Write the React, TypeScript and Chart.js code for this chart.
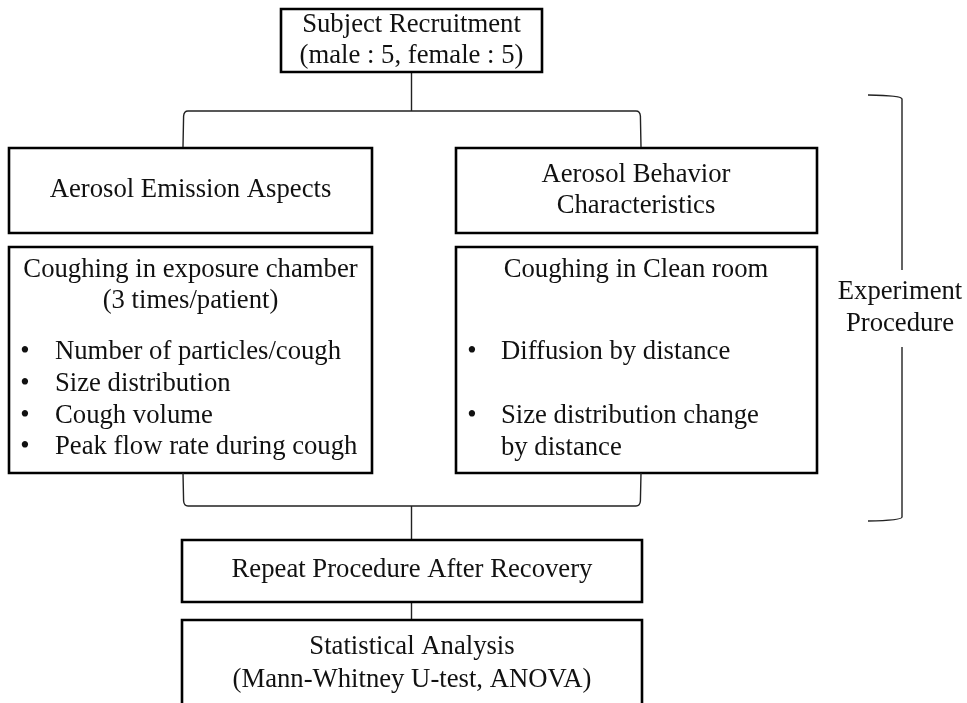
import React, { useEffect, useRef } from "react";
import { Chart, registerables } from "chart.js";

Chart.register(...registerables);

// Flowchart boxes (data units = page pixels)
const boxLeft = [281, 9, 456, 9, 456, 182, 182];
const boxRight = [542, 372, 817, 372, 817, 642, 642];
const boxTop = [9, 148, 148, 247, 247, 540, 620];
const boxBottom = [72, 233, 233, 473, 473, 602, 720];

// Straight connectors
const connX = [411.5, 411.5, 411.5];
const connTop = [72, 506, 602];
const connBottom = [111, 540, 620];

// Split / merge brackets
const bracketLeft = [183, 183];
const bracketRight = [641, 641];
const bracketBar = [111, 506];
const bracketEnd = [147, 473];

// Side bracket "Experiment Procedure"
const sideX = [902];
const sideTipX = [868];
const sideTop = [95];
const sideBottom = [521];
const sideGapTop = [270];
const sideGapBottom = [347];

// Text labels
const labels = [
  "Subject Recruitment",
  "(male : 5, female : 5)",
  "Aerosol Emission Aspects",
  "Aerosol Behavior",
  "Characteristics",
  "Coughing in exposure chamber",
  "(3 times/patient)",
  "Number of particles/cough",
  "Size distribution",
  "Cough volume",
  "Peak flow rate during cough",
  "Coughing in Clean room",
  "Diffusion by distance",
  "Size distribution change",
  "by distance",
  "Experiment",
  "Procedure",
  "Repeat Procedure After Recovery",
  "Statistical Analysis",
  "(Mann-Whitney U-test, ANOVA)",
];
const labelX = [411.5, 411.5, 190.5, 636, 636, 190.5, 190.5, 55, 55, 55, 55, 636, 501, 501, 501, 900, 900, 412, 412, 412];
const labelY = [32, 63, 197, 182, 213, 277, 308, 359, 391, 423, 454, 277, 359, 423, 455, 299, 331, 577, 654, 687];
const labelAlign = ["c", "c", "c", "c", "c", "c", "c", "l", "l", "l", "l", "c", "l", "l", "l", "c", "c", "c", "c", "c"];

// Bullets
const bulletX = [25, 25, 25, 25, 472, 472];
const bulletY = [359, 391, 423, 454, 359, 423];

const FONT = "26.7px 'Liberation Serif', 'Times New Roman', serif";

const flowPlugin = {
  id: "flow",
  afterDatasetsDraw(chart: any) {
    const { ctx } = chart;
    const xs = chart.scales.x;
    const ys = chart.scales.y;
    const px = (v: number) => xs.getPixelForValue(v);
    const py = (v: number) => ys.getPixelForValue(v);
    ctx.save();
    ctx.strokeStyle = "#222";
    ctx.lineWidth = 1.4;
    ctx.lineCap = "butt";
    // split / merge brackets
    for (let i = 0; i < bracketLeft.length; i++) {
      const x1 = px(bracketLeft[i]);
      const x2 = px(bracketRight[i]);
      const yb = py(bracketBar[i]);
      const ye = py(bracketEnd[i]);
      const s = ye > yb ? 1 : -1;
      const r = 5;
      ctx.beginPath();
      ctx.moveTo(x1, ye);
      ctx.lineTo(x1 + 0.6, yb + s * r);
      ctx.quadraticCurveTo(x1 + 1, yb, x1 + r, yb);
      ctx.lineTo(x2 - r, yb);
      ctx.quadraticCurveTo(x2 - 1, yb, x2 - 0.6, yb + s * r);
      ctx.lineTo(x2, ye);
      ctx.stroke();
    }
    // side bracket
    for (let i = 0; i < sideX.length; i++) {
      const x = px(sideX[i]);
      const xt = px(sideTipX[i]);
      ctx.beginPath();
      ctx.moveTo(xt, py(sideTop[i]));
      ctx.quadraticCurveTo(x, py(sideTop[i]) + 0.5, x, py(sideTop[i]) + 4);
      ctx.lineTo(x, py(sideGapTop[i]));
      ctx.moveTo(x, py(sideGapBottom[i]));
      ctx.lineTo(x, py(sideBottom[i]) - 4);
      ctx.quadraticCurveTo(x, py(sideBottom[i]) - 0.5, xt, py(sideBottom[i]));
      ctx.stroke();
    }
    // texts
    ctx.fillStyle = "#111";
    ctx.font = FONT;
    ctx.textBaseline = "alphabetic";
    for (let i = 0; i < labels.length; i++) {
      ctx.textAlign = labelAlign[i] === "c" ? "center" : "left";
      ctx.fillText(labels[i], px(labelX[i]), py(labelY[i]));
    }
    ctx.textAlign = "center";
    for (let i = 0; i < bulletX.length; i++) {
      ctx.fillText("\u2022", px(bulletX[i]), py(bulletY[i]));
    }
    ctx.restore();
  },
};

export default function App() {
  const ref = useRef<HTMLCanvasElement | null>(null);
  useEffect(() => {
    if (!ref.current) return;
    const datasets: any[] = [];
    for (let i = 0; i < boxLeft.length; i++) {
      datasets.push({
        data: [
          { x: boxLeft[i], y: boxTop[i] },
          { x: boxRight[i], y: boxTop[i] },
          { x: boxRight[i], y: boxBottom[i] },
          { x: boxLeft[i], y: boxBottom[i] },
          { x: boxLeft[i], y: boxTop[i] },
          { x: boxRight[i], y: boxTop[i] },
        ],
        borderColor: "#000",
        borderWidth: 2.6,
        borderJoinStyle: "miter",
        pointRadius: 0,
        showLine: true,
        fill: false,
        tension: 0,
      });
    }
    for (let i = 0; i < connX.length; i++) {
      datasets.push({
        data: [
          { x: connX[i], y: connTop[i] },
          { x: connX[i], y: connBottom[i] },
        ],
        borderColor: "#222",
        borderWidth: 1.4,
        pointRadius: 0,
        showLine: true,
        fill: false,
      });
    }
    const chart = new Chart(ref.current, {
      type: "scatter",
      data: { datasets },
      options: {
        animation: false,
        responsive: false,
        events: [],
        layout: { padding: 0 },
        plugins: { legend: { display: false }, tooltip: { enabled: false } },
        scales: {
          x: { type: "linear", min: 0, max: 967, display: false },
          y: { type: "linear", min: 0, max: 703, reverse: true, display: false },
        },
      },
      plugins: [flowPlugin],
    });
    return () => chart.destroy();
  }, []);
  return (
    <div style={{ position: "absolute", left: 0, top: 0, width: 967, height: 703, background: "#fff" }}>
      <canvas ref={ref} width={967} height={703} />
    </div>
  );
}
